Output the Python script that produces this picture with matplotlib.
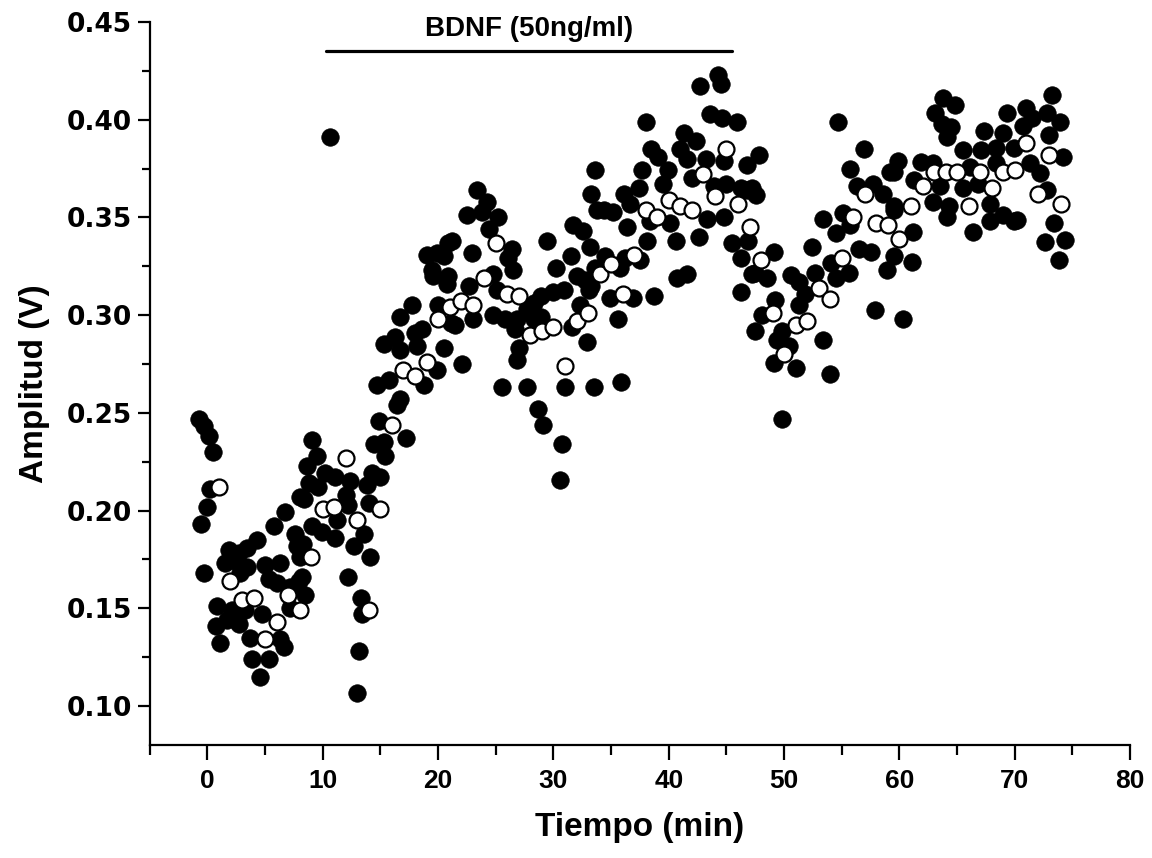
import numpy as np
import matplotlib
matplotlib.use("Agg")
import matplotlib.pyplot as plt
from matplotlib.ticker import MultipleLocator, FixedLocator

# individual sweeps (filled) - time (min), amplitude (V)
t_black = [-0.75, -0.3, 0.1, 0.46, 0.26, -0.03, -0.55, -0.26,
           9.07, 9.5, 8.6, 10.2, 8.8, 9.6, 8.06, 6.76, 5.75, 9.07, 9.94, 7.63,
           4.3, 7.77, 3.44, 1.85, 2.7, 8.06, 1.56, 2.43, 3.44, 5.0, 6.3, 2.86,
           5.3, 6.0, 7.9, 7.2, 8.5, 0.84, 2.14, 3.3, 4.74, 7.2, 0.7, 1.7, 2.7,
           1.13, 3.73, 6.3, 6.6, 3.87, 5.3, 4.6,
           14.4, 15.3, 17.2, 15.4, 11.1, 12.4, 14.3, 15.0, 13.8, 8.35, 12.0, 12.2,
           14.0, 11.2, 11.1, 13.55, 12.7, 14.1, 8.3, 8.2, 12.2, 13.3, 13.4, 13.1, 13.0,
           10.6,
           20.9, 19.0, 19.9, 20.5, 19.5, 19.6, 20.8, 17.7, 16.7, 20.0, 21.1, 18.6,
           18.0, 16.3, 15.3, 16.7, 18.2, 20.5, 19.9, 18.75, 14.7, 15.7, 16.7, 16.4,
           14.85,
           23.4, 24.2, 22.5, 23.8, 25.2, 24.4, 21.2, 22.9, 26.4, 26.1, 26.5, 24.8,
           20.9, 22.65, 25.1, 29.4, 30.2, 31.5, 32.0, 31.7, 32.6, 33.2, 33.6, 33.3,
           33.8, 33.3, 31.6, 32.3, 30.9, 30.0, 28.9, 28.3, 27.7, 28.3, 28.9, 26.8,
           26.7, 25.8, 24.8, 23.05, 21.5, 27.0, 26.8, 22.1, 32.9, 25.5, 27.7, 31.0,
           33.5, 28.7, 29.1, 30.7, 30.6,
           44.3, 44.5, 42.7, 43.6, 44.6, 45.9, 38.0, 41.3, 42.4, 38.5, 39.1, 41.0,
           41.6, 43.2, 44.8, 46.8, 37.7, 39.9, 42.0, 43.9, 45.0, 46.3, 47.2, 39.5,
           37.4, 36.1, 36.65, 34.35, 35.2, 38.4, 40.1, 43.3, 44.8, 46.9, 36.4, 40.6,
           42.6, 38.1, 45.5, 46.3, 47.2, 34.5, 36.2, 37.5, 33.6, 35.8, 32.75, 40.7,
           41.6, 33.05, 34.9, 36.9, 38.7, 46.3, 35.6, 47.5, 35.9,
           47.8, 55.7, 56.9, 59.5, 59.9, 56.3, 57.7, 58.6, 46.8, 47.6, 55.1, 55.7,
           59.5, 53.4, 54.5, 52.4, 56.5, 57.5, 59.5, 49.1, 54.1, 58.9, 55.6, 47.5,
           48.5, 50.6, 52.7, 54.5, 51.3, 51.8, 49.2, 48.05, 51.3, 49.8, 57.9, 49.4,
           50.4, 53.4, 49.1, 51.0, 54.0, 49.8, 54.7,
           63.8, 64.8, 63.1, 63.7, 64.5, 64.1, 69.3, 71.0, 73.2, 72.8, 71.5, 67.3,
           69.0, 70.7, 73.0, 65.5, 67.1, 68.4, 69.9, 59.2, 61.9, 62.9, 66.1, 68.4,
           71.3, 72.2, 61.3, 63.5, 65.5, 66.8, 59.5, 62.9, 64.3, 67.85, 72.8, 61.2,
           64.1, 66.4, 67.85, 69.0, 69.9, 73.4, 72.6, 61.1, 73.8, 60.3,
           73.9, 74.2, 74.35, 70.2]
v_black = [0.247, 0.243, 0.238, 0.230, 0.211, 0.202, 0.193, 0.168,
           0.236, 0.228, 0.223, 0.219, 0.214, 0.212, 0.207, 0.199, 0.192, 0.192, 0.189, 0.188,
           0.185, 0.182, 0.181, 0.180, 0.178, 0.176, 0.173, 0.174, 0.171, 0.172, 0.173, 0.168,
           0.165, 0.163, 0.164, 0.161, 0.157, 0.151, 0.149, 0.149, 0.147, 0.150, 0.141, 0.144, 0.142,
           0.132, 0.135, 0.134, 0.130, 0.124, 0.124, 0.115,
           0.234, 0.235, 0.237, 0.228, 0.217, 0.215, 0.219, 0.217, 0.213, 0.206, 0.208, 0.203,
           0.204, 0.195, 0.186, 0.188, 0.182, 0.176, 0.183, 0.166, 0.166, 0.155, 0.147, 0.128, 0.1065,
           0.391,
           0.337, 0.331, 0.332, 0.330, 0.323, 0.320, 0.316, 0.305, 0.299, 0.305, 0.296, 0.293,
           0.291, 0.289, 0.285, 0.282, 0.284, 0.283, 0.272, 0.264, 0.264, 0.267, 0.257, 0.254,
           0.246,
           0.364, 0.358, 0.351, 0.353, 0.350, 0.344, 0.338, 0.332, 0.334, 0.329, 0.323, 0.321,
           0.320, 0.315, 0.313, 0.338, 0.324, 0.330, 0.320, 0.346, 0.343, 0.335, 0.374, 0.362,
           0.354, 0.315, 0.294, 0.305, 0.313, 0.312, 0.310, 0.306, 0.303, 0.298, 0.299, 0.298,
           0.293, 0.298, 0.300, 0.298, 0.295, 0.283, 0.277, 0.275, 0.286, 0.263, 0.263, 0.263,
           0.263, 0.252, 0.244, 0.234, 0.2157,
           0.423, 0.418, 0.417, 0.403, 0.401, 0.399, 0.399, 0.393, 0.389, 0.385, 0.381, 0.385,
           0.380, 0.380, 0.379, 0.377, 0.374, 0.374, 0.370, 0.366, 0.367, 0.365, 0.365, 0.367,
           0.365, 0.362, 0.357, 0.354, 0.353, 0.348, 0.347, 0.349, 0.350, 0.338, 0.345, 0.338,
           0.340, 0.338, 0.337, 0.329, 0.321, 0.330, 0.329, 0.328, 0.324, 0.324, 0.318, 0.319,
           0.321, 0.313, 0.309, 0.309, 0.310, 0.312, 0.298, 0.292, 0.266,
           0.382, 0.375, 0.385, 0.373, 0.379, 0.366, 0.367, 0.362, 0.364, 0.3615, 0.352, 0.346,
           0.354, 0.349, 0.342, 0.335, 0.334, 0.3325, 0.330, 0.3325, 0.3265, 0.323, 0.3215, 0.3215,
           0.319, 0.3206, 0.3215, 0.319, 0.317, 0.311, 0.3078, 0.300, 0.305, 0.292, 0.3027, 0.287,
           0.284, 0.287, 0.2754, 0.2728, 0.270, 0.247, 0.399,
           0.411, 0.4076, 0.4033, 0.398, 0.3965, 0.391, 0.4033, 0.406, 0.4127, 0.4033, 0.4007, 0.394,
           0.393, 0.397, 0.392, 0.3845, 0.3845, 0.3853, 0.3853, 0.373, 0.3785, 0.378, 0.376, 0.378,
           0.378, 0.3725, 0.369, 0.366, 0.365, 0.3673, 0.3556, 0.358, 0.3556, 0.357, 0.364, 0.3427,
           0.350, 0.3427, 0.348, 0.351, 0.348, 0.347, 0.3376, 0.327, 0.328, 0.298,
           0.399, 0.381, 0.3385, 0.3487]

# one-minute averages (open circles)
t_open = list(range(1, 75))
v_open = [0.212, 0.164, 0.154, 0.155, 0.134, 0.143, 0.157, 0.149, 0.176, 0.201,
          0.202, 0.227, 0.195, 0.149, 0.201, 0.244, 0.272, 0.269, 0.276, 0.298,
          0.304, 0.307, 0.305, 0.319, 0.337, 0.311, 0.310, 0.290, 0.292, 0.294,
          0.274, 0.297, 0.301, 0.321, 0.326, 0.311, 0.331, 0.354, 0.350, 0.359,
          0.356, 0.354, 0.372, 0.361, 0.385, 0.357, 0.345, 0.328, 0.301, 0.280,
          0.295, 0.297, 0.314, 0.308, 0.329, 0.350, 0.362, 0.347, 0.346, 0.339,
          0.356, 0.366, 0.373, 0.373, 0.373, 0.356, 0.373, 0.365, 0.373, 0.374,
          0.388, 0.362, 0.382, 0.357]

bdnf_start, bdnf_end, bdnf_level = 10.3, 45.5, 0.435
bdnf_label = "BDNF (50ng/ml)"

fig = plt.figure(figsize=(11.52, 8.58), dpi=100)
ax = fig.add_axes([0.130, 0.1317, 0.851, 0.8427])

ax.plot(t_black, v_black, 'o', ms=12.6, mfc='black', mec='black', mew=0.5, ls='none')
ax.plot(t_open, v_open, 'o', ms=11.5, mfc='white', mec='black', mew=1.6, ls='none')

# BDNF bar
ax.plot([bdnf_start, bdnf_end], [bdnf_level, bdnf_level], color='black', lw=2.3,
        solid_capstyle='round', clip_on=False)
ax.text((bdnf_start + bdnf_end) / 2, 0.4465, bdnf_label, ha='center', va='center',
        fontsize=20, fontweight='bold', family='Liberation Sans', clip_on=False)

ax.set_xlim(-5, 80)
ax.set_ylim(0.08, 0.45)
ax.xaxis.set_major_locator(MultipleLocator(10))
ax.xaxis.set_minor_locator(FixedLocator(np.arange(-5, 80, 10)))
ax.yaxis.set_minor_locator(FixedLocator(np.arange(0.125, 0.45, 0.05)))
ax.set_yticks(np.arange(0.10, 0.451, 0.05))
ax.set_yticklabels([f"{v:.2f}" for v in np.arange(0.10, 0.451, 0.05)])

for s in ['top', 'right']:
    ax.spines[s].set_visible(False)
for s in ['left', 'bottom']:
    ax.spines[s].set_linewidth(1.6)

ax.tick_params(axis='both', which='major', direction='out', width=1.6)
ax.tick_params(axis='x', which='major', length=11, pad=6)
ax.tick_params(axis='x', which='minor', length=7, width=1.6)
ax.tick_params(axis='y', which='major', length=9, pad=4)
ax.tick_params(axis='y', which='minor', length=6, width=1.6)

for lab in ax.get_xticklabels():
    lab.set_fontfamily('Liberation Sans')
    lab.set_fontweight('bold')
    lab.set_fontsize(19)
for lab in ax.get_yticklabels():
    lab.set_fontfamily('DejaVu Sans')
    lab.set_fontweight('bold')
    lab.set_fontsize(19)

ax.set_xlabel("Tiempo (min)", fontsize=24, fontweight='bold', family='Liberation Sans', labelpad=14)
ax.set_ylabel("Amplitud (V)", fontsize=24, fontweight='bold', family='Liberation Sans', labelpad=12)

fig.savefig("out.png", dpi=100)
